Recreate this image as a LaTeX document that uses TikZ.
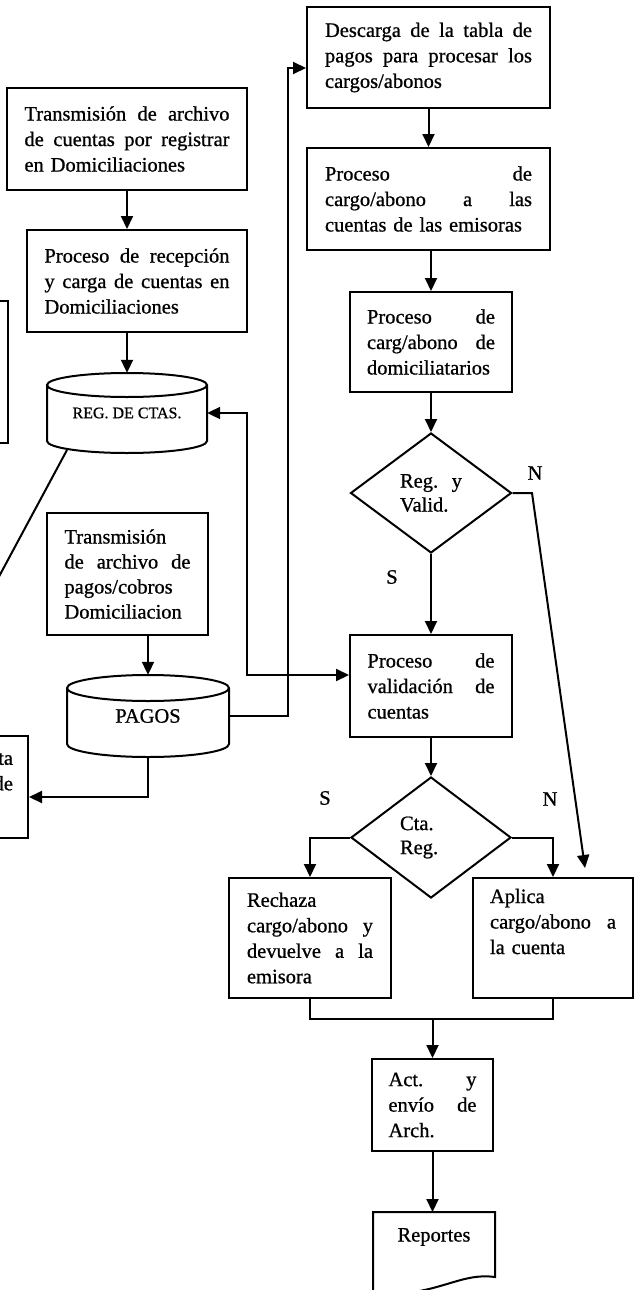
\documentclass[tikz,border=0pt]{standalone}
\usepackage{fontspec}
\setmainfont{Liberation Serif}[RawFeature={embolden=0.8}]
\usetikzlibrary{arrows.meta,shapes.geometric}
% stretch glue stronger than the ragged-right glue, for spread lines
\newcommand\hf{\hskip 0pt plus 1filll\relax}

\begin{document}
\begin{tikzpicture}[x=1pt,y=-1pt,
  line/.style={line width=2pt},
  tip/.tip={Triangle[length=13pt,width=12pt]},
  arr/.style={line,-tip},
  arr2/.style={line,tip-tip},
  box/.style={draw,line width=2pt,rectangle,inner sep=0pt,align=left,
              font=\fontsize{20.5}{25.5}\selectfont},
  dia/.style={draw,line width=2pt,diamond,inner sep=0pt,align=left,
              text width=62pt,font=\fontsize{20.5}{24}\selectfont},
  dbtext/.style={inner sep=0pt},
  lbl/.style={inner sep=0pt,font=\fontsize{20.5}{24}\selectfont}
]
\useasboundingbox (0,0) rectangle (639,1290);
\clip (0,0) rectangle (639,1290);

% ---------- left column ----------
\node[box,minimum width=156,minimum height=142] (bA) at (-70,372) {};
\node[box,minimum width=170,minimum height=102,text width=140,align=right] (bB) at (-57,787)
  {Consulta\\ de\\ \strut};

\node[box,minimum width=240,minimum height=102,text width=205] (b1) at (127,139)
  {Transmisión\hf de\hf archivo\\ de\hf cuentas\hf por\hf registrar\\ en Domiciliaciones};
\node[box,minimum width=220,minimum height=102,text width=185] (b2) at (137,281)
  {Proceso\hf de\hf recepción\\ y\hf carga\hf de\hf cuentas\hf en\\ Domiciliaciones};

% data store: account register
\node[dbtext,minimum width=160,minimum height=80,font=\fontsize{16}{18}\selectfont] (reg) at (127,413) {REG. DE CTAS.};
\draw[line] (47,385) -- (47,441) arc[start angle=180,end angle=360,x radius=80pt,y radius=12pt]
  -- (207,385) arc[start angle=0,end angle=360,x radius=80pt,y radius=12pt];

\node[box,minimum width=161,minimum height=122,text width=126,font=\fontsize{20.5}{25}\selectfont] (tp) at (127.5,574)
  {Transmisión\\ de\hf archivo\hf de\\ pagos/cobros\\ Domiciliacion};

% data store: payments
\node[dbtext,minimum width=162,minimum height=82,font=\fontsize{20.5}{24}\selectfont] (pagos) at (148,716) {PAGOS};
\draw[line] (67,688) -- (67,744) arc[start angle=180,end angle=360,x radius=81pt,y radius=13pt]
  -- (229,688) arc[start angle=0,end angle=360,x radius=81pt,y radius=13pt];

% ---------- right column ----------
\node[box,minimum width=243,minimum height=101,text width=207] (desc) at (428.5,57.5)
  {Descarga\hf de\hf la\hf tabla\hf de\\ pagos\hf para\hf procesar\hf los\\ cargos/abonos};
\node[box,minimum width=243,minimum height=102,text width=207] (cargo) at (428.5,199)
  {Proceso\hf de\\ cargo/abono\hf a\hf las\\ cuentas de las emisoras};
\node[box,minimum width=162,minimum height=100,text width=128] (dom) at (431,342)
  {Proceso\hf de\\ carg/abono\hf de\\ domiciliatarios};
\node[dia,minimum width=161,minimum height=120] (d1) at (431,493) {Reg.\hf y\\ Valid.};
\node[box,minimum width=162,minimum height=102,text width=127] (val) at (431,686)
  {Proceso\hf de\\ validación\hf de\\ cuentas};
\node[dia,minimum width=160,minimum height=121] (d2) at (431,837.5) {Cta.\\ Reg.};
\node[box,minimum width=162,minimum height=120,text width=126] (rech) at (310,938)
  {Rechaza\\ cargo/abono\hf y\\ devuelve\hf a\hf la\\ emisora};
\node[box,minimum width=160,minimum height=120,text width=126] (apl) at (553,938)
  {Aplica\\ cargo/abono\hf a\\ la cuenta\\ \strut};
\node[box,minimum width=121,minimum height=92,text width=88] (act) at (432.5,1105)
  {Act.\hf y\\ envío\hf de\\ Arch.};

% report document
\node[dbtext,font=\fontsize{20.5}{24}\selectfont] (rep) at (434,1237) {Reportes};
\draw[line] (373,1300) -- (373,1212) -- (495,1212) -- (495,1277)
  .. controls (458,1272) and (438,1297) .. (373,1294);

% decision labels
\node[lbl] (s1) at (392,577) {S};
\node[lbl] (n1) at (535,473) {N};
\node[lbl] (s2) at (325,798) {S};
\node[lbl] (n2) at (550,799) {N};

% ---------- connectors ----------
\draw[arr] (b1.south) -- (b1.south |- b2.north);
\draw[arr] (b2.south -| reg.north) -- (reg.north);
\coordinate (regcut) at (67,450);
\coordinate (offl) at (-12,597);
\draw[line] (regcut) -- (offl);
\draw[arr] (tp.south -| pagos.north) -- (pagos.north);
\draw[arr] (pagos.south) |- (bB.east |- 0,797);
\draw[arr] (pagos.east) -| (288,68) -- (desc.west |- 0,68);
\draw[arr2] (reg.east) -- (247,413) |- (val.west |- 0,675);

\draw[arr] (desc.south) -- (cargo.north);
\draw[arr] (cargo.south -| dom.north) -- (dom.north);
\draw[arr] (dom.south) -- (d1.north);
\draw[arr] (d1.south) -- (val.north);
\draw[arr] (val.south) -- (d2.north);
\draw[arr] (d2.west) -| (rech.north);
\draw[arr] (d2.east) -| (apl.north);
\coordinate (nk) at (532,493);
\coordinate (ntip) at (585,868);
\draw[arr] (d1.east) -- (nk) -- (ntip);
\coordinate (mg) at (432.5,1019);
\draw[line] (rech.south) |- (mg) -| (apl.south);
\draw[arr] (mg) -- (act.north);
\coordinate (reptop) at (432.5,1212);
\draw[arr] (act.south) -- (reptop);
\end{tikzpicture}
\end{document}
